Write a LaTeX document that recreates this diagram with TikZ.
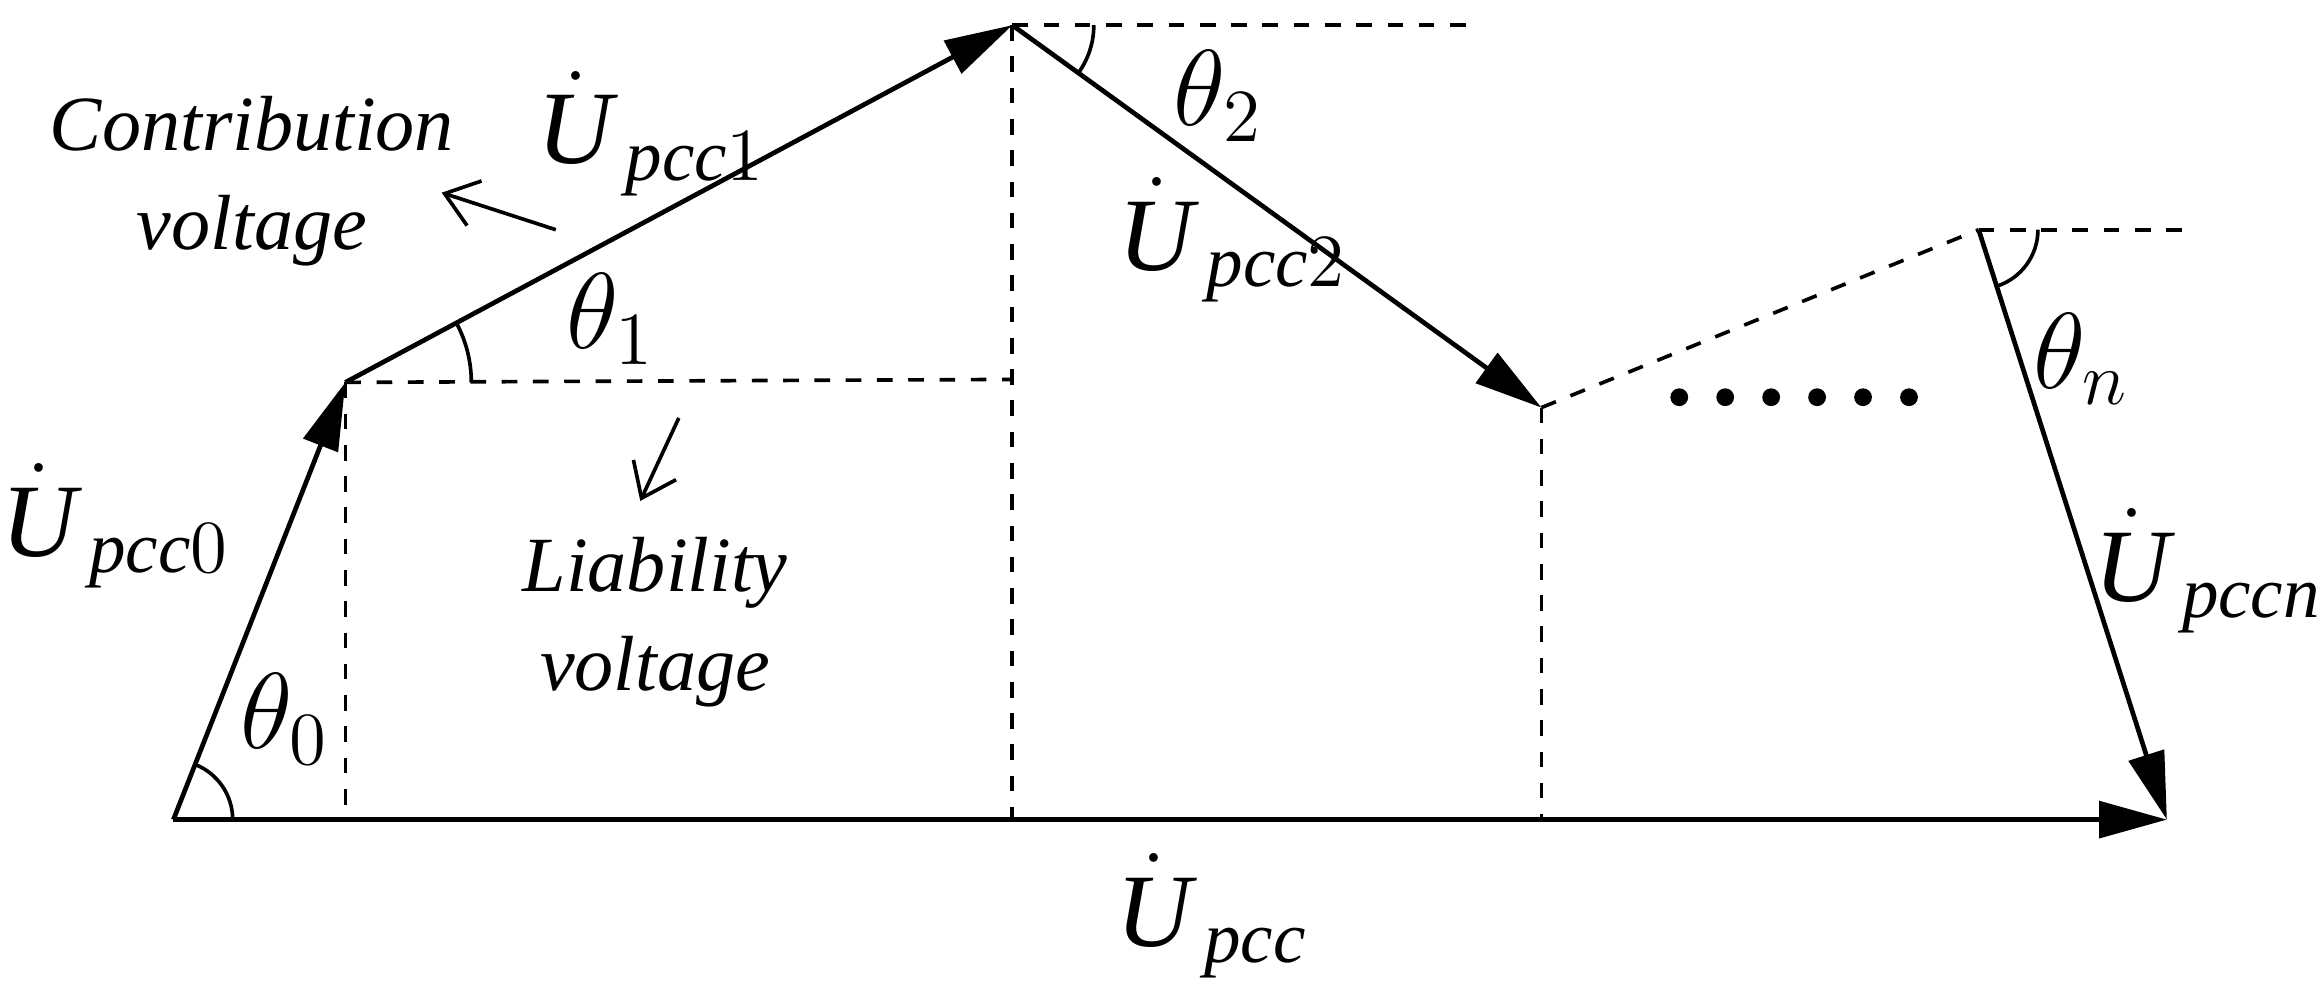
\documentclass[tikz,border=0pt]{standalone}
\usepackage{fontspec}
\setmainfont{Liberation Serif}
\usetikzlibrary{arrows.meta,calc}
\begin{document}
\begin{tikzpicture}[x=0.01cm,y=-0.01cm,
  vec/.style={line width=0.9pt,-{Triangle[length=13pt,width=7pt]}},
  dsh/.style={dashed,line width=0.7pt},
  arc/.style={line width=0.7pt},
  big/.style={font=\fontsize{20}{22}\selectfont,inner sep=0pt},
  txt/.style={font=\fontsize{15}{19}\selectfont\itshape,align=center,inner sep=0pt}]
\useasboundingbox (0,0) rectangle (1568,673);
\newcommand\Uv[2]{$\dot{\mathit{U}}_{\,\mathit{#1}#2}$}
\coordinate (O) at (117,553);
\coordinate (A) at (233,258);
\coordinate (B) at (683,17);
\coordinate (C) at (1040,275);
\coordinate (D) at (1335,155);
\coordinate (E) at (1462,553);
\coordinate (A1) at (683,256);
\coordinate (A2) at (233,553);
\coordinate (B1) at (683,553);
\coordinate (B2) at (995,17);
\coordinate (C1) at (1040,553);
\coordinate (D1) at (1480,155);
% dashed
\draw[dsh] (A) -- (A1);
\draw[dsh] (A) -- (A2);
\draw[dsh] (B) -- (B1);
\draw[dsh] (B) -- (B2);
\draw[dsh] (C) -- (C1);
\draw[dsh] (C) -- (D);
\draw[dsh] (D) -- (D1);
% vectors
\draw[vec] (O) -- (E);
\draw[vec] (O) -- (A);
\draw[vec] (A) -- (B);
\draw[vec] (B) -- (C);
\draw[vec] (D) -- (E);
% arcs
\draw[arc] ($(O)+(40,0)$) arc[start angle=0,end angle=-68.5,radius=40];
\draw[arc] ($(A)+(85,0)$) arc[start angle=0,end angle=-28.2,radius=85];
\draw[arc] ($(B)+(55,0)$) arc[start angle=0,end angle=35.9,radius=55];
\draw[arc] ($(D)+(40,0)$) arc[start angle=0,end angle=72.3,radius=40];
% dots
\foreach \i in {0,...,5} \fill (1133+\i*31,268) circle[radius=6];
% labels
\node[big] (l0) at (78,355) {\Uv{pcc}{0}};
\node[big] (t0) at (192,485) {$\theta_0$};
\node[big] (l1) at (440,90) {\Uv{pcc}{1}};
\node[big] (t1) at (412,215) {$\theta_1$};
\node[big] (t2) at (822,65) {$\theta_2$};
\node[big] (l2) at (832,162) {\Uv{pcc}{2}};
\node[big] (tn) at (1404,242) {$\theta_n$};
\node[big] (ln) at (1490,385) {\Uv{pccn}{}};
\node[big] (lp) at (818,618) {\Uv{pcc}{}};
\node[txt] (cv) at (170,122) {Contribution\\voltage};
\node[txt] (lv) at (442,420) {Liability\\voltage};
\coordinate (c1) at (375,155); \coordinate (c2) at (298,130);
\coordinate (v1) at (458,282); \coordinate (v2) at (432,338);
\draw[arc,-{Straight Barb[length=6pt,width=9pt]}] (c1) -- (c2);
\draw[arc,-{Straight Barb[length=6pt,width=9pt]}] (v1) -- (v2);
\end{tikzpicture}
\end{document}
